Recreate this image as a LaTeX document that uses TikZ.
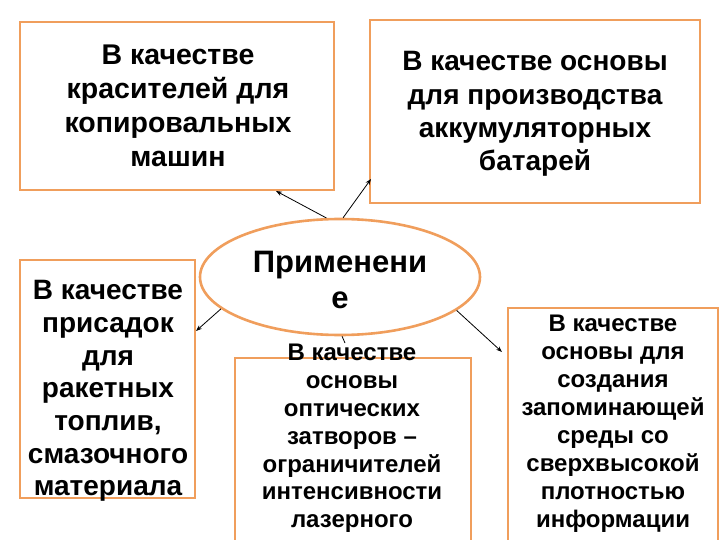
\documentclass[tikz,border=0pt]{standalone}
\usepackage{fontspec}
\setmainfont{Liberation Sans}
\usetikzlibrary{arrows.meta,shapes.geometric}
\definecolor{boxorange}{RGB}{240,158,92}
\tikzset{
  box/.style={draw=boxorange, line width=2.6pt, fill=white, inner sep=0pt},
  lbl/.style={align=center, inner sep=0pt, font=\bfseries},
  conn/.style={draw=black, line width=0.8pt, -{Stealth[length=6pt,width=4.5pt]}},
}
\begin{document}
\begin{tikzpicture}[x=1pt,y=-1pt]
\useasboundingbox (0,0) rectangle (720,540);
% boxes
\node[box, minimum width=314pt, minimum height=168pt] (b1) at (177,106) {};
\node[box, minimum width=330pt, minimum height=183pt] (b2) at (535,111.5) {};
\node[box, minimum width=175pt, minimum height=238pt] (b3) at (107.5,379) {};
\node[box, minimum width=236pt, minimum height=200pt] (b4) at (353,458) {};
\node[box, minimum width=210pt, minimum height=250pt] (b5) at (613,433) {};
\node[draw=boxorange, line width=2.6pt, fill=white, ellipse, minimum width=280pt, minimum height=116pt, inner sep=0pt] (e) at (340,277) {};
% texts
\node[lbl, font=\bfseries\fontsize{28.5}{34}\selectfont] (t1) at (178,106) {В качестве\\красителей для\\копировальных\\машин};
\node[lbl, font=\bfseries\fontsize{28}{33.3}\selectfont] (t2) at (535,114) {В качестве основы\\для производства\\аккумуляторных\\батарей};
\node[lbl, font=\bfseries\fontsize{28}{32.7}\selectfont] (t3) at (108,391) {В качестве\\присадок\\для\\ракетных\\топлив,\\смазочного\\материала};
\node[lbl, font=\bfseries\fontsize{24}{27.8}\selectfont] (t4) at (352,438.5) {В качестве\\основы\\оптических\\затворов –\\ограничителей\\интенсивности\\лазерного};
\node[lbl, font=\bfseries\fontsize{24}{28}\selectfont] (t5) at (613,424) {В качестве\\основы для\\создания\\запоминающей\\среды со\\сверхвысокой\\плотностью\\информации};
\node[lbl, font=\bfseries\fontsize{31}{36}\selectfont] (te) at (340,280) {Применени\\е};
% arrow ends
\coordinate (a1) at (276,191);
\coordinate (a2) at (371,179);
\coordinate (a3) at (196,331);
\coordinate (a5) at (502,352);
\coordinate (a4) at (345,343);
\draw[conn] (e.103) -- (a1);
\draw[conn] (e.87) -- (a2);
\draw[conn] (e.195) -- (a3);
\draw[conn] (e.344) -- (a5);
\draw[line width=0.8pt] (e.272) -- (a4);
\end{tikzpicture}
\end{document}
